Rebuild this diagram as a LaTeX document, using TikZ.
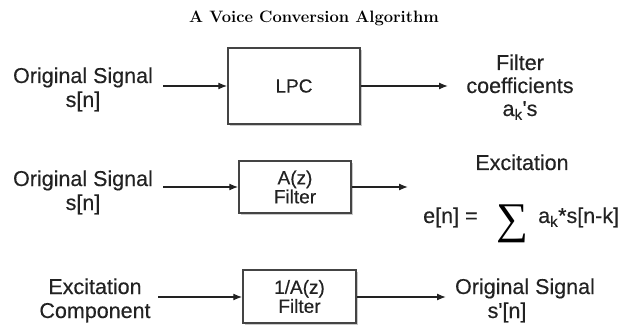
\documentclass[tikz,border=0pt]{standalone}
\usepackage{fontspec}
\usepackage{graphicx}
\usetikzlibrary{arrows.meta,shadows}
\newfontfamily\arial[FakeBold=0.35]{Liberation Sans}
\newfontfamily\timesfont{Liberation Serif}
\definecolor{ink}{HTML}{222222}
\definecolor{boxline}{HTML}{444444}
\tikzset{
  lbl/.style={anchor=base, inner sep=0pt, text=ink, font=\arial\fontsize{21.5}{24}\selectfont},
  blockbox/.style={draw=boxline, line width=1.5pt, fill=white, inner sep=0pt, align=center,
     text=ink, font=\arial\fontsize{19}{20}\selectfont,
     drop shadow={shadow xshift=2pt, shadow yshift=-2pt, opacity=0.35, fill=black!60}},
  flow/.style={draw=ink, line width=1.3pt, -{Latex[length=9pt,width=7pt]}}
}
\begin{document}
\begin{tikzpicture}[x=1pt,y=-1pt]
\useasboundingbox (0,0) rectangle (624,326);
\fill[white] (0,0) rectangle (624,326);

% title
\node[anchor=base, inner sep=0pt, font=\fontsize{16.5}{18}\selectfont\bfseries] (title) at (314,23) {A Voice Conversion Algorithm};

% row 1
\node[lbl] (in1a) at (83,83) {Original Signal};
\node[lbl] (in1b) at (83,107) {s[n]};
\node[blockbox, minimum width=132pt, minimum height=76pt] (lpc) at (294,86) {LPC};
\node[lbl] (out1a) at (520,70) {Filter};
\node[lbl] (out1b) at (520,93) {coefficients};
\node[lbl] (out1c) at (520,116) {a\textsubscript{k}'s};
\coordinate (s1) at (163,86);
\coordinate (e1) at (448,86);
\draw[flow] (s1) -- (lpc.west |- s1);
\draw[flow] (lpc.east |- e1) -- (e1);

% row 2
\node[lbl] (in2a) at (83,186) {Original Signal};
\node[lbl] (in2b) at (83,210) {s[n]};
\node[blockbox, minimum width=112pt, minimum height=52pt] (az) at (295,187) {A(z)\\[-1pt]Filter};
\node[lbl] (exc) at (522,170) {Excitation};
\node[lbl, anchor=base west] (en) at (423,223) {e[n] =};
\node[inner sep=0pt, text=black] (sig) at (512.5,223.5) {\resizebox*{32pt}{38pt}{\timesfont ∑}};
\node[lbl, anchor=base west] (ak) at (538,223) {a\textsubscript{k}*s[n-k]};
\coordinate (s2) at (163,187);
\coordinate (e2) at (408,187);
\draw[flow] (s2) -- (az.west |- s2);
\draw[flow] (az.east |- e2) -- (e2);

% row 3
\node[lbl] (in3a) at (95,294) {Excitation};
\node[lbl] (in3b) at (95,318) {Component};
\node[blockbox, minimum width=113pt, minimum height=53pt] (iaz) at (299.5,296.5) {1/A(z)\\[-1pt]Filter};
\node[lbl] (out3a) at (525,294) {Original Signal};
\node[lbl] (out3b) at (507,318) {s'[n]};
\coordinate (s3) at (158,297);
\coordinate (e3) at (446,297);
\draw[flow] (s3) -- (iaz.west |- s3);
\draw[flow] (iaz.east |- e3) -- (e3);
\end{tikzpicture}
\end{document}
